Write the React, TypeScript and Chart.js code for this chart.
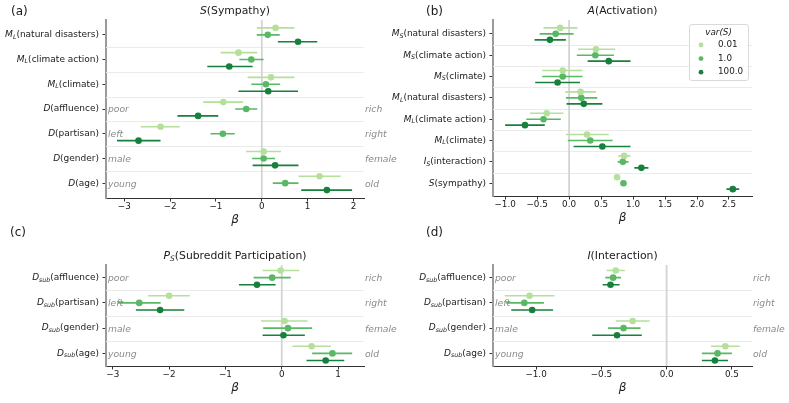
import React, { useEffect, useRef } from 'react';
import { Chart, registerables } from 'chart.js';

Chart.register(...registerables);

// ---------------- data ----------------
const seriesLabels = ['0.01', '1.0', '100.0'];

const aRows = ['M_L(natural disasters)', 'M_L(climate action)', 'M_L(climate)', 'D(affluence)', 'D(partisan)', 'D(gender)', 'D(age)'];
const aTicks = [-3, -2, -1, 0, 1, 2];
// [mean, low, high]
const a001 = [[0.30, -0.11, 0.71], [-0.51, -0.90, -0.10], [0.20, -0.31, 0.71], [-0.84, -1.28, -0.41], [-2.21, -2.64, -1.79], [0.04, -0.34, 0.42], [1.26, 0.80, 1.72]];
const a1 = [[0.13, -0.11, 0.39], [-0.23, -0.49, 0.04], [0.09, -0.23, 0.40], [-0.34, -0.58, -0.10], [-0.85, -1.12, -0.59], [0.04, -0.21, 0.29], [0.51, 0.24, 0.80]];
const a100 = [[0.79, 0.35, 1.21], [-0.71, -1.19, -0.20], [0.14, -0.51, 0.79], [-1.39, -1.84, -0.95], [-2.69, -3.16, -2.21], [0.29, -0.20, 0.80], [1.42, 0.86, 1.97]];

const bRows = ['M_S(natural disasters)', 'M_S(climate action)', 'M_S(climate)', 'M_L(natural disasters)', 'M_L(climate action)', 'M_L(climate)', 'I_S(interaction)', 'S(sympathy)'];
const bTicks = [-1, -0.5, 0, 0.5, 1, 1.5, 2, 2.5];
const b001 = [[-0.14, -0.40, 0.13], [0.42, 0.14, 0.72], [-0.10, -0.42, 0.21], [0.18, -0.06, 0.42], [-0.35, -0.61, -0.09], [0.28, -0.05, 0.62], [0.86, 0.77, 0.96], [0.75, 0.74, 0.76]];
const b1 = [[-0.21, -0.46, 0.07], [0.41, 0.12, 0.70], [-0.10, -0.42, 0.21], [0.19, -0.05, 0.44], [-0.40, -0.67, -0.13], [0.33, -0.02, 0.68], [0.84, 0.76, 0.93], [0.85, 0.84, 0.86]];
const b100 = [[-0.30, -0.54, -0.05], [0.62, 0.29, 0.96], [-0.18, -0.53, 0.17], [0.23, -0.04, 0.52], [-0.69, -1.00, -0.38], [0.52, 0.07, 0.96], [1.13, 1.02, 1.24], [2.56, 2.46, 2.66]];

const cRows = ['D_sub(affluence)', 'D_sub(partisan)', 'D_sub(gender)', 'D_sub(age)'];
const cTicks = [-3, -2, -1, 0, 1];
const c001 = [[-0.02, -0.34, 0.31], [-2.00, -2.37, -1.63], [0.05, -0.37, 0.46], [0.53, 0.19, 0.87]];
const c1 = [[-0.17, -0.50, 0.16], [-2.53, -2.91, -2.15], [0.11, -0.33, 0.54], [0.90, 0.54, 1.25]];
const c100 = [[-0.44, -0.76, -0.11], [-2.16, -2.59, -1.73], [0.03, -0.34, 0.41], [0.78, 0.44, 1.11]];

const dRows = ['D_sub(affluence)', 'D_sub(partisan)', 'D_sub(gender)', 'D_sub(age)'];
const dTicks = [-1, -0.5, 0, 0.5];
const d001 = [[-0.39, -0.46, -0.32], [-1.05, -1.24, -0.86], [-0.26, -0.39, -0.13], [0.45, 0.34, 0.56]];
const d1 = [[-0.41, -0.47, -0.35], [-1.09, -1.23, -0.94], [-0.33, -0.45, -0.20], [0.39, 0.27, 0.50]];
const d100 = [[-0.43, -0.49, -0.36], [-1.03, -1.19, -0.87], [-0.38, -0.57, -0.19], [0.37, 0.27, 0.47]];

const sideLeft = ['poor', 'left', 'male', 'young'];
const sideRight = ['rich', 'right', 'female', 'old'];

// ---------------- styling ----------------
const COLORS = ['#b4e09c', '#5ab864', '#17803d'];
const OFFSETS = [-0.28, 0, 0.28];
const FONT = '"DejaVu Sans", sans-serif';
const W = 789;
const H = 403;
const XAXIS_H = 29;

type Panel = {
  letter: string;
  letterX: number;
  letterY: number;
  title: string;
  rows: string[];
  series: number[][][];
  ticks: number[];
  decimals: number;
  area: { l: number; r: number; t: number; b: number };
  xMin: number;
  xMax: number;
  yMin: number;
  yMax: number;
  sideStart: number;
  legend: boolean;
};

const panels: Panel[] = [
  { letter: '(a)', letterX: 11, letterY: 12, title: 'S(Sympathy)', rows: aRows, series: [a001, a1, a100], ticks: aTicks, decimals: 0,
    area: { l: 106, r: 364, t: 20, b: 198 }, xMin: -3.4, xMax: 2.23, yMin: -0.6, yMax: 6.6, sideStart: 3, legend: false },
  { letter: '(b)', letterX: 426, letterY: 12, title: 'A(Activation)', rows: bRows, series: [b001, b1, b100], ticks: bTicks, decimals: 1,
    area: { l: 493, r: 752, t: 20, b: 196 }, xMin: -1.19, xMax: 2.86, yMin: -0.65, yMax: 7.6, sideStart: -1, legend: true },
  { letter: '(c)', letterX: 10, letterY: 233, title: 'P_S(Subreddit Participation)', rows: cRows, series: [c001, c1, c100], ticks: cTicks, decimals: 0,
    area: { l: 106, r: 364, t: 265, b: 366 }, xMin: -3.12, xMax: 1.46, yMin: -0.5, yMax: 3.5, sideStart: 0, legend: false },
  { letter: '(d)', letterX: 426, letterY: 233, title: 'I(Interaction)', rows: dRows, series: [d001, d1, d100], ticks: dTicks, decimals: 1,
    area: { l: 493, r: 752, t: 265, b: 366 }, xMin: -1.33, xMax: 0.654, yMin: -0.5, yMax: 3.5, sideStart: 0, legend: false },
];

function fmt(v: number, dec: number) {
  const s = Math.abs(v).toFixed(dec);
  return v < 0 ? '\u2212' + s : s;
}

function drawRich(ctx: CanvasRenderingContext2D, label: string, x: number, y: number, size: number, align: string, color: string) {
  const m = label.match(/^([A-Za-z]+)(?:_([A-Za-z]+))?(\(.*\))$/);
  const parts: { t: string; f: string; dy: number }[] = m
    ? [
        { t: m[1], f: `italic ${size}px ${FONT}`, dy: 0 },
        ...(m[2] ? [{ t: m[2], f: `italic ${size * 0.7}px ${FONT}`, dy: size * 0.25 }] : []),
        { t: m[3], f: `${size}px ${FONT}`, dy: 0 },
      ]
    : [{ t: label, f: `${size}px ${FONT}`, dy: 0 }];
  ctx.save();
  ctx.textBaseline = 'middle';
  ctx.textAlign = 'left';
  ctx.fillStyle = color;
  const widths = parts.map((p) => {
    ctx.font = p.f;
    return ctx.measureText(p.t).width;
  });
  const total = widths.reduce((s, w) => s + w, 0);
  let sx = align === 'right' ? x - total : align === 'center' ? x - total / 2 : x;
  parts.forEach((p, i) => {
    ctx.font = p.f;
    ctx.fillText(p.t, sx, y + p.dy);
    sx += widths[i];
  });
  ctx.restore();
}

function makePlugin(p: Panel) {
  return {
    id: 'decor',
    beforeDatasetsDraw(chart: any) {
      const { ctx, chartArea } = chart;
      const xs = chart.scales.x;
      const ys = chart.scales.y;
      ctx.save();
      ctx.strokeStyle = '#ebebeb';
      ctx.lineWidth = 1;
      for (let i = 0; i < p.rows.length - 1; i++) {
        const yy = Math.round(ys.getPixelForValue(i + 0.5)) + 0.5;
        ctx.beginPath();
        ctx.moveTo(chartArea.left, yy);
        ctx.lineTo(chartArea.right, yy);
        ctx.stroke();
      }
      ctx.strokeStyle = '#d4d4d4';
      ctx.lineWidth = 1.8;
      const x0 = xs.getPixelForValue(0);
      ctx.beginPath();
      ctx.moveTo(x0, chartArea.top);
      ctx.lineTo(x0, chartArea.bottom);
      ctx.stroke();
      ctx.restore();
    },
    afterDraw(chart: any) {
      const { ctx, chartArea } = chart;
      const ys = chart.scales.y;
      // row labels
      p.rows.forEach((r, i) => {
        drawRich(ctx, r, chartArea.left - 7, ys.getPixelForValue(i), 9, 'right', '#1a1a1a');
      });
      // title
      drawRich(ctx, p.title, (chartArea.left + chartArea.right) / 2, chartArea.top - 9, 10.8, 'center', '#1a1a1a');
      // panel letter
      ctx.save();
      ctx.font = `12px ${FONT}`;
      ctx.fillStyle = '#1a1a1a';
      ctx.textBaseline = 'middle';
      ctx.textAlign = 'left';
      ctx.fillText(p.letter, p.letterX, p.letterY);
      ctx.restore();
      // side labels
      if (p.sideStart >= 0) {
        ctx.save();
        ctx.font = `italic 9.2px ${FONT}`;
        ctx.fillStyle = '#8a8a8a';
        ctx.textBaseline = 'middle';
        sideLeft.forEach((t, k) => {
          const yy = ys.getPixelForValue(p.sideStart + k) + 1;
          ctx.textAlign = 'left';
          ctx.fillText(t, chartArea.left + 2, yy);
          ctx.fillText(sideRight[k], chartArea.right + 1, yy);
        });
        ctx.restore();
      }
      // legend
      if (p.legend) {
        const bw = 59;
        const bh = 56;
        const bx = chartArea.right - 4 - bw;
        const by = chartArea.top + 4;
        ctx.save();
        ctx.fillStyle = 'rgba(255,255,255,0.85)';
        ctx.strokeStyle = '#d9d9d9';
        ctx.lineWidth = 1;
        ctx.beginPath();
        (ctx as any).roundRect(bx + 0.5, by + 0.5, bw, bh, 2.5);
        ctx.fill();
        ctx.stroke();
        ctx.fillStyle = '#1a1a1a';
        ctx.font = `italic 8.8px ${FONT}`;
        ctx.textAlign = 'center';
        ctx.textBaseline = 'middle';
        ctx.fillText('var(S)', bx + bw / 2, by + 9);
        seriesLabels.forEach((s, i) => {
          const yy = by + 21 + i * 13.6;
          ctx.fillStyle = COLORS[i];
          ctx.beginPath();
          ctx.arc(bx + 12, yy, 2.4, 0, Math.PI * 2);
          ctx.fill();
          ctx.fillStyle = '#1a1a1a';
          ctx.font = `8.8px ${FONT}`;
          ctx.textAlign = 'left';
          ctx.fillText(s, bx + 29, yy);
        });
        ctx.restore();
      }
    },
  };
}

function buildConfig(p: Panel): any {
  const datasets: any[] = [];
  p.series.forEach((ser, si) => {
    const off = OFFSETS[si];
    const bars: any[] = [];
    ser.forEach((t, ri) => {
      bars.push({ x: t[1], y: ri + off }, { x: t[2], y: ri + off }, { x: t[0], y: null });
    });
    datasets.push({
      type: 'scatter',
      label: seriesLabels[si] + ' CI',
      data: bars,
      showLine: true,
      spanGaps: false,
      borderColor: COLORS[si],
      borderWidth: 1.6,
      pointRadius: 0,
      pointHoverRadius: 0,
      fill: false,
      order: 2,
    });
    datasets.push({
      type: 'scatter',
      label: seriesLabels[si],
      data: ser.map((t, ri) => ({ x: t[0], y: ri + off })),
      pointRadius: 3.3,
      pointHoverRadius: 3.3,
      backgroundColor: COLORS[si],
      borderWidth: 0,
      order: 1,
    });
  });
  const a = p.area;
  return {
    type: 'scatter',
    data: { datasets },
    plugins: [makePlugin(p)],
    options: {
      responsive: false,
      animation: false,
      events: [],
      layout: { padding: { left: 0, top: a.t, right: W - a.r, bottom: H - a.b - XAXIS_H } },
      plugins: { legend: { display: false }, tooltip: { enabled: false }, title: { display: false } },
      scales: {
        x: {
          type: 'linear',
          position: 'bottom',
          min: p.xMin,
          max: p.xMax,
          afterBuildTicks: (s: any) => {
            s.ticks = p.ticks.map((v) => ({ value: v }));
          },
          afterFit: (s: any) => {
            s.height = XAXIS_H;
          },
          ticks: {
            autoSkip: false,
            maxRotation: 0,
            padding: 0,
            color: '#1a1a1a',
            font: { family: FONT, size: 8.8 },
            callback: (v: any) => fmt(Number(v), p.decimals),
          },
          grid: { drawOnChartArea: false, drawTicks: true, tickLength: 3.5, color: '#333', lineWidth: 1 },
          border: { display: true, color: '#333', width: 1 },
          title: { display: true, text: 'β', color: '#1a1a1a', padding: { top: 0, bottom: 0 }, font: { family: FONT, size: 12, style: 'italic' } },
        },
        y: {
          type: 'linear',
          position: 'left',
          min: p.yMin,
          max: p.yMax,
          reverse: true,
          afterBuildTicks: (s: any) => {
            s.ticks = p.rows.map((_, i) => ({ value: i }));
          },
          afterFit: (s: any) => {
            s.width = a.l;
          },
          ticks: { display: true, callback: () => '', padding: 0, font: { size: 1 } },
          grid: { drawOnChartArea: false, drawTicks: true, tickLength: 3.5, color: '#333', lineWidth: 1 },
          border: { display: true, color: '#9a9a9a', width: 2 },
        },
      },
    },
  };
}

function PanelChart({ panel }: { panel: Panel }) {
  const ref = useRef<HTMLCanvasElement | null>(null);
  useEffect(() => {
    if (!ref.current) return;
    const chart = new Chart(ref.current, buildConfig(panel));
    return () => chart.destroy();
  }, [panel]);
  return <canvas ref={ref} width={W} height={H} style={{ position: 'absolute', left: 0, top: 0, width: W, height: H }} />;
}

export default function App() {
  return (
    <div style={{ position: 'absolute', left: 0, top: 0, width: W, height: H, background: '#fff', overflow: 'hidden' }}>
      {panels.map((p) => (
        <PanelChart key={p.letter} panel={p} />
      ))}
    </div>
  );
}
